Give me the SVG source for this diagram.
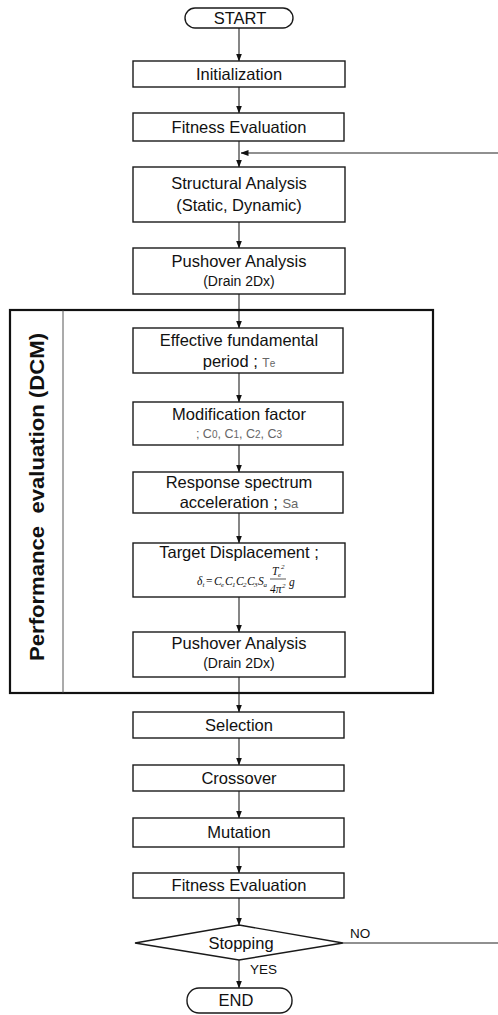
<svg xmlns="http://www.w3.org/2000/svg" width="498" height="1015" viewBox="0 0 498 1015">
  <style>
    .box { fill: #fff; stroke: #1a1a1a; stroke-width: 1.4; }
    .frame { fill: none; stroke: #111; stroke-width: 2.2; }
    .divider { stroke: #444; stroke-width: 0.9; }
    .t { font-family: "Liberation Sans", Arial, sans-serif; fill: #111; text-anchor: middle; }
    .m { font-size: 16.5px; }
    .s { font-size: 14px; }
    .g { fill: #666; }
    .f { font-family: "Liberation Serif", "Times New Roman", serif; font-style: italic; fill: #111; font-size: 11.5px; }
    .sub { font-size: 7px; }
    .wire { fill: none; stroke: #222; stroke-width: 1.1; }
    .lbl { font-family: "Liberation Sans", Arial, sans-serif; font-size: 13.5px; fill: #111; }
    .side { font-family: "Liberation Sans", Arial, sans-serif; font-weight: bold; font-size: 20px; fill: #111; text-anchor: middle; }
  </style>
  <defs>
    <marker id="ah" viewBox="0 0 8 8" refX="7.5" refY="4" markerWidth="8" markerHeight="8" markerUnits="userSpaceOnUse" orient="auto">
      <path d="M0,1 L8,4 L0,7 Z" fill="#111"/>
    </marker>
  </defs>

  <!-- connectors -->
  <g id="connectors">
    <line class="wire" x1="239" y1="28" x2="239" y2="61" marker-end="url(#ah)"/>
    <line class="wire" x1="239" y1="87" x2="239" y2="113" marker-end="url(#ah)"/>
    <line class="wire" x1="239" y1="141" x2="239" y2="167" marker-end="url(#ah)"/>
    <line class="wire" x1="498" y1="153" x2="241" y2="153" marker-end="url(#ah)"/>
    <line class="wire" x1="239" y1="222" x2="239" y2="248" marker-end="url(#ah)"/>
    <line class="wire" x1="239" y1="294" x2="239" y2="328" marker-end="url(#ah)"/>
    <line class="wire" x1="239" y1="373" x2="239" y2="402" marker-end="url(#ah)"/>
    <line class="wire" x1="239" y1="445" x2="239" y2="472" marker-end="url(#ah)"/>
    <line class="wire" x1="239" y1="513" x2="239" y2="543" marker-end="url(#ah)"/>
    <line class="wire" x1="239" y1="597" x2="239" y2="632" marker-end="url(#ah)"/>
    <line class="wire" x1="239" y1="677" x2="239" y2="712" marker-end="url(#ah)"/>
    <line class="wire" x1="239" y1="738" x2="239" y2="765" marker-end="url(#ah)"/>
    <line class="wire" x1="239" y1="791" x2="239" y2="818" marker-end="url(#ah)"/>
    <line class="wire" x1="239" y1="847" x2="239" y2="873" marker-end="url(#ah)"/>
    <line class="wire" x1="239" y1="898" x2="239" y2="925" marker-end="url(#ah)"/>
    <line class="wire" x1="239" y1="960" x2="239" y2="988" marker-end="url(#ah)"/>
    <line class="wire" x1="343" y1="943" x2="498" y2="943"/>
    <text class="lbl" x="350" y="938">NO</text>
    <text class="lbl" x="250" y="974">YES</text>
  </g>

  <!-- performance evaluation frame -->
  <g id="dcm">
    <rect class="frame" x="10" y="310" width="423" height="383"/>
    <line class="divider" x1="63" y1="310" x2="63" y2="693"/>
    <text class="side" transform="translate(44,497) rotate(-90)" textLength="328" lengthAdjust="spacingAndGlyphs" xml:space="preserve">Performance  evaluation (DCM)</text>
  </g>

  <g id="start">
    <rect class="box" x="185" y="8" width="108" height="20" rx="10"/>
    <text class="t m" x="240" y="24">START</text>
  </g>

  <g id="init">
    <rect class="box" x="133" y="61" width="212" height="26"/>
    <text class="t m" x="239" y="80">Initialization</text>
  </g>

  <g id="fitness1">
    <rect class="box" x="133" y="113" width="211" height="28"/>
    <text class="t m" x="239" y="133">Fitness Evaluation</text>
  </g>

  <g id="structural">
    <rect class="box" x="133" y="167" width="212" height="55"/>
    <text class="t m" x="239" y="189">Structural Analysis</text>
    <text class="t m" x="239" y="211">(Static, Dynamic)</text>
  </g>

  <g id="pushover1">
    <rect class="box" x="133" y="248" width="212" height="46"/>
    <text class="t m" x="239" y="267">Pushover Analysis</text>
    <text class="t s" x="239" y="286">(Drain 2Dx)</text>
  </g>

  <g id="period">
    <rect class="box" x="133" y="328" width="210" height="45"/>
    <text class="t m" x="239" y="346">Effective fundamental</text>
    <text class="t m" x="239" y="367">period ; <tspan class="g" style="font-size:12px">T<tspan style="font-size:10px">e</tspan></tspan></text>
  </g>

  <g id="modification">
    <rect class="box" x="133" y="402" width="210" height="43"/>
    <text class="t m" x="239" y="420">Modification factor</text>
    <text class="t g" x="239" y="438" style="font-size:12.5px">; C<tspan style="font-size:10px">0</tspan>, C<tspan style="font-size:10px">1</tspan>, C<tspan style="font-size:10px">2</tspan>, C<tspan style="font-size:10px">3</tspan></text>
  </g>

  <g id="spectrum">
    <rect class="box" x="133" y="472" width="210" height="41"/>
    <text class="t m" x="239" y="488">Response spectrum</text>
    <text class="t m" x="239" y="508">acceleration ; <tspan class="g" style="font-size:13px">Sa</tspan></text>
  </g>

  <g id="target">
    <rect class="box" x="133" y="543" width="212" height="54"/>
    <text class="t m" x="239" y="558">Target Displacement ;</text>
    <!-- δt = Ce C1 C2 C3 Sa · Te² / 4π² · g, glyphs placed one by one -->
    <text class="f" y="585"><tspan x="197">δ</tspan><tspan class="sub" x="202.5" y="587">t</tspan><tspan x="206" y="585" font-style="normal">=</tspan><tspan x="214">C</tspan><tspan class="sub" x="221" y="587">e</tspan><tspan x="225" y="585">C</tspan><tspan class="sub" x="232" y="587">1</tspan><tspan x="236" y="585">C</tspan><tspan class="sub" x="243" y="587">2</tspan><tspan x="247" y="585">C</tspan><tspan class="sub" x="254" y="587">3</tspan><tspan x="258" y="585">S</tspan><tspan class="sub" x="263.5" y="587">a</tspan></text>
    <line x1="270" y1="579" x2="286" y2="579" stroke="#111" stroke-width="0.7"/>
    <text class="f" y="575"><tspan x="272">T</tspan><tspan class="sub" x="278" y="577">e</tspan><tspan class="sub" x="281" y="569">2</tspan></text>
    <text class="f" y="593"><tspan x="270">4π</tspan><tspan class="sub" x="282" y="588">2</tspan></text>
    <text class="f" x="289" y="586">g</text>
  </g>

  <g id="pushover2">
    <rect class="box" x="133" y="632" width="212" height="45"/>
    <text class="t m" x="239" y="649">Pushover Analysis</text>
    <text class="t s" x="239" y="668">(Drain 2Dx)</text>
  </g>

  <g id="selection">
    <rect class="box" x="133" y="712" width="211" height="26"/>
    <text class="t m" x="239" y="731">Selection</text>
  </g>

  <g id="crossover">
    <rect class="box" x="133" y="765" width="211" height="26"/>
    <text class="t m" x="239" y="784">Crossover</text>
  </g>

  <g id="mutation">
    <rect class="box" x="133" y="818" width="211" height="29"/>
    <text class="t m" x="239" y="838">Mutation</text>
  </g>

  <g id="fitness2">
    <rect class="box" x="133" y="873" width="211" height="25"/>
    <text class="t m" x="239" y="891">Fitness Evaluation</text>
  </g>

  <g id="stopping">
    <polygon class="box" points="239,925 343,943 239,960 135,943"/>
    <text class="t m" x="241" y="949">Stopping</text>
  </g>

  <g id="end">
    <rect class="box" x="187" y="988" width="105" height="25" rx="12"/>
    <text class="t m" x="236" y="1006">END</text>
  </g>
</svg>
